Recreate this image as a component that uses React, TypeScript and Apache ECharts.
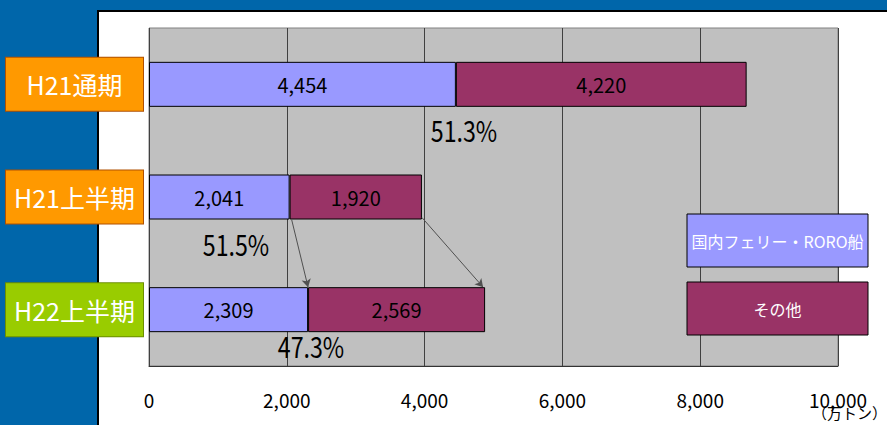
import React, { useEffect, useRef } from 'react';
import * as echarts from 'echarts';

const categories = ['H21通期', 'H21上半期', 'H22上半期'];
const ferryValues = [4454, 2041, 2309];
const otherValues = [4220, 1920, 2569];
const seriesNames = ['国内フェリー・RORO船', 'その他'];
const unitLabel = '（万トン）';
// position of each share label along the value axis, and its drop below the category centre
const shareLabelAt = [4572, 1263, 2351];
const shareLabelDy = [46, 47, 36];

const shares = ferryValues.map((f, i) => ((f / (f + otherValues[i])) * 100).toFixed(1) + '%');

const FONT = '"Noto Sans CJK JP", "Noto Sans", sans-serif';
const fmt = (v: number) => v.toLocaleString('en-US');

export default function App() {
  const ref = useRef<HTMLDivElement>(null);
  useEffect(() => {
    if (!ref.current) return;
    const chart = echarts.init(ref.current, null, { renderer: 'svg' });
    const legendAndUnit = [
      { type: 'rect', z: 100, shape: { x: 687, y: 214, width: 181, height: 53 }, style: { fill: '#9999FF', stroke: '#000', lineWidth: 1 } },
      { type: 'text', z: 101, x: 777.5, y: 241, style: { text: seriesNames[0], fill: '#fff', fontSize: 16, fontFamily: FONT, align: 'center', verticalAlign: 'middle', textAlign: 'center', textVerticalAlign: 'middle' } },
      { type: 'rect', z: 100, shape: { x: 687, y: 282, width: 181, height: 53 }, style: { fill: '#993366', stroke: '#000', lineWidth: 1 } },
      { type: 'text', z: 101, x: 777.5, y: 309, style: { text: seriesNames[1], fill: '#fff', fontSize: 16, fontFamily: FONT, align: 'center', verticalAlign: 'middle', textAlign: 'center', textVerticalAlign: 'middle' } },
      { type: 'text', z: 101, x: 887, y: 412, style: { text: unitLabel, fill: '#000', fontSize: 15, fontFamily: FONT, align: 'right', verticalAlign: 'middle', textAlign: 'right', textVerticalAlign: 'middle' } },
    ];
    const option: any = {
      animation: false,
      backgroundColor: 'transparent',
      textStyle: { fontFamily: FONT },
      grid: {
        left: 149, top: 28, right: 49, bottom: 59, show: true,
        backgroundColor: '#C0C0C0', borderColor: '#808080', borderWidth: 1,
      },
      xAxis: {
        type: 'value', min: 0, max: 10000, interval: 2000,
        axisLine: { show: true, lineStyle: { color: '#333', width: 1 } },
        axisTick: { show: false },
        splitLine: { show: true, lineStyle: { color: '#404040', width: 1 } },
        axisLabel: { margin: 24, fontSize: 19, color: '#000', fontFamily: FONT, formatter: (v: number) => fmt(v) },
      },
      yAxis: {
        type: 'category', data: categories, inverse: true,
        axisLine: { show: false }, axisTick: { show: false }, splitLine: { show: false },
        axisLabel: {
          margin: 6,
          formatter: (v: string, i: number) => `{c${i}|${v}}`,
          rich: {
            c0: { width: 137, height: 53, lineHeight: 53, align: 'center', color: '#fff', fontSize: 25, fontFamily: FONT, backgroundColor: '#FF9900', borderColor: '#B05000', borderWidth: 1 },
            c1: { width: 137, height: 53, lineHeight: 53, align: 'center', color: '#fff', fontSize: 25, fontFamily: FONT, backgroundColor: '#FF9900', borderColor: '#B05000', borderWidth: 1 },
            c2: { width: 137, height: 53, lineHeight: 53, align: 'center', color: '#fff', fontSize: 25, fontFamily: FONT, backgroundColor: '#99CC00', borderColor: '#6B8E00', borderWidth: 1 },
          },
        },
      },
      series: [
        {
          id: 'ferry', type: 'bar', name: seriesNames[0], stack: 't', data: ferryValues, barWidth: 45,
          itemStyle: { color: '#9999FF', borderColor: '#000', borderWidth: 1 },
          label: { show: true, position: 'inside', color: '#000', fontSize: 20, fontFamily: FONT, formatter: (p: any) => fmt(p.value) },
        },
        {
          id: 'other', type: 'bar', name: seriesNames[1], stack: 't', data: otherValues, barWidth: 45,
          itemStyle: { color: '#993366', borderColor: '#000', borderWidth: 1 },
          label: { show: true, position: 'inside', color: '#000', fontSize: 20, fontFamily: FONT, formatter: (p: any) => fmt(p.value) },
        },
      ],
      graphic: legendAndUnit,
    };
    chart.setOption(option);

    const px = (v: number, c: string) => chart.convertToPixel({ gridIndex: 0 }, [v, c]) as number[];
    const half = 45 / 2;
    const s1 = px(ferryValues[1], categories[1]);
    const e1 = px(ferryValues[2], categories[2]);
    const s2 = px(ferryValues[1] + otherValues[1], categories[1]);
    const e2 = px(ferryValues[2] + otherValues[2], categories[2]);

    const shareTexts = shares.map((s, i) => {
      const p = px(shareLabelAt[i], categories[i]);
      return {
        type: 'text', z: 50, x: p[0], y: p[1] + shareLabelDy[i], scaleX: 0.8,
        style: { text: s, fill: '#000', fontSize: 29, fontFamily: FONT, align: 'center', verticalAlign: 'middle', textAlign: 'center', textVerticalAlign: 'middle' },
      };
    });

    chart.setOption({
      graphic: [...legendAndUnit, ...shareTexts],
      series: [{
        id: 'ferry',
        markLine: {
          silent: true, animation: false,
          symbol: ['none', 'arrow'], symbolSize: [7, 8],
          label: { show: false },
          lineStyle: { color: '#505050', width: 1, type: 'solid' },
          data: [
            [{ x: s1[0] + 2, y: s1[1] + half }, { x: e1[0], y: e1[1] - half }],
            [{ x: s2[0], y: s2[1] + half - 2 }, { x: e2[0] - 2, y: e2[1] - half }],
          ],
        },
      }],
    });
    return () => chart.dispose();
  }, []);

  return (
    <div style={{ position: 'fixed', left: 0, top: 0, width: 887, height: 425, background: '#0066AA', overflow: 'hidden' }}>
      <div style={{ position: 'absolute', left: 97, top: 10, right: 0, bottom: 0, background: '#fff', borderLeft: '2px solid #000', borderTop: '2px solid #000', boxSizing: 'border-box' }} />
      <div ref={ref} style={{ position: 'absolute', left: 0, top: 0, width: 887, height: 425 }} />
    </div>
  );
}
